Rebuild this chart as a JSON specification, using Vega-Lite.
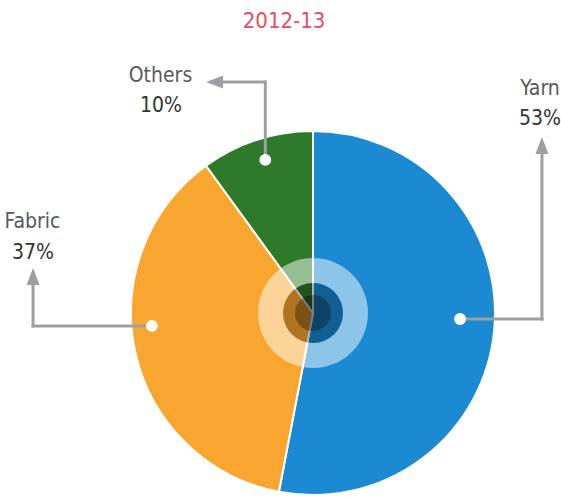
{
  "$schema": "https://vega.github.io/schema/vega-lite/v6.json",
  "width": 496,
  "height": 368,
  "autosize": {"type": "none"},
  "padding": {"left": 65, "top": 129, "right": 0, "bottom": 0},
  "background": "white",
  "config": {"view": {"stroke": null}},
  "data": {"values": [
    {"category": "Yarn", "share": 0.53},
    {"category": "Fabric", "share": 0.37},
    {"category": "Others", "share": 0.10}
  ]},
  "layer": [
    {
      "mark": {"type": "arc", "outerRadius": 182, "stroke": "white", "strokeWidth": 2},
      "encoding": {
        "theta": {"field": "share", "type": "quantitative", "stack": true},
        "order": {"field": "share", "type": "quantitative", "sort": "descending"},
        "color": {"field": "category", "type": "nominal", "legend": null,
          "scale": {"domain": ["Yarn", "Fabric", "Others"], "range": ["#1b8ad3", "#f9a630", "#2f7a2a"]}}
      }
    },
    {
      "transform": [{"filter": "datum.category == 'Yarn'"}],
      "mark": {"type": "arc", "theta": 0, "theta2": 6.2832, "innerRadius": 30, "outerRadius": 55, "fill": "white", "fillOpacity": 0.5},
      "encoding": {}
    },
    {
      "transform": [{"filter": "datum.category == 'Yarn'"}],
      "mark": {"type": "arc", "theta": 0, "theta2": 6.2832, "innerRadius": 0, "outerRadius": 30, "fill": "black", "fillOpacity": 0.3},
      "encoding": {}
    },
    {
      "transform": [{"filter": "datum.category == 'Yarn'"}],
      "mark": {"type": "arc", "theta": 0, "theta2": 6.2832, "innerRadius": 0, "outerRadius": 18, "fill": "black", "fillOpacity": 0.3},
      "encoding": {}
    },
    {
      "transform": [{"filter": "datum.category == 'Yarn'"}],
      "mark": {"type": "rule", "color": "#9d9fa2", "strokeWidth": 3, "strokeCap": "square"},
      "encoding": {
        "x": {"datum": 0.808, "type": "quantitative", "scale": {"domain": [-1.3626, 1.3626], "nice": false, "zero": false}, "axis": null},
        "x2": {"datum": 1.258},
        "y": {"datum": -0.033, "type": "quantitative", "scale": {"domain": [-1.011, 1.011], "nice": false, "zero": false}, "axis": null}
      }
    },
    {
      "transform": [{"filter": "datum.category == 'Yarn'"}],
      "mark": {"type": "rule", "color": "#9d9fa2", "strokeWidth": 3, "strokeCap": "square"},
      "encoding": {
        "x": {"datum": 1.258, "type": "quantitative", "scale": {"domain": [-1.3626, 1.3626], "nice": false, "zero": false}, "axis": null},
        "y": {"datum": -0.033, "type": "quantitative", "scale": {"domain": [-1.011, 1.011], "nice": false, "zero": false}, "axis": null},
        "y2": {"datum": 0.874}
      }
    },
    {
      "transform": [{"filter": "datum.category == 'Fabric'"}],
      "mark": {"type": "rule", "color": "#9d9fa2", "strokeWidth": 3, "strokeCap": "square"},
      "encoding": {
        "x": {"datum": -1.538, "type": "quantitative", "scale": {"domain": [-1.3626, 1.3626], "nice": false, "zero": false}, "axis": null},
        "x2": {"datum": -0.885},
        "y": {"datum": -0.071, "type": "quantitative", "scale": {"domain": [-1.011, 1.011], "nice": false, "zero": false}, "axis": null}
      }
    },
    {
      "transform": [{"filter": "datum.category == 'Fabric'"}],
      "mark": {"type": "rule", "color": "#9d9fa2", "strokeWidth": 3, "strokeCap": "square"},
      "encoding": {
        "x": {"datum": -1.538, "type": "quantitative", "scale": {"domain": [-1.3626, 1.3626], "nice": false, "zero": false}, "axis": null},
        "y": {"datum": -0.071, "type": "quantitative", "scale": {"domain": [-1.011, 1.011], "nice": false, "zero": false}, "axis": null},
        "y2": {"datum": 0.154}
      }
    },
    {
      "transform": [{"filter": "datum.category == 'Others'"}],
      "mark": {"type": "rule", "color": "#9d9fa2", "strokeWidth": 3, "strokeCap": "square"},
      "encoding": {
        "x": {"datum": -0.262, "type": "quantitative", "scale": {"domain": [-1.3626, 1.3626], "nice": false, "zero": false}, "axis": null},
        "y": {"datum": 0.841, "type": "quantitative", "scale": {"domain": [-1.011, 1.011], "nice": false, "zero": false}, "axis": null},
        "y2": {"datum": 1.269}
      }
    },
    {
      "transform": [{"filter": "datum.category == 'Others'"}],
      "mark": {"type": "rule", "color": "#9d9fa2", "strokeWidth": 3, "strokeCap": "square"},
      "encoding": {
        "x": {"datum": -0.262, "type": "quantitative", "scale": {"domain": [-1.3626, 1.3626], "nice": false, "zero": false}, "axis": null},
        "x2": {"datum": -0.495},
        "y": {"datum": 1.269, "type": "quantitative", "scale": {"domain": [-1.011, 1.011], "nice": false, "zero": false}, "axis": null}
      }
    },
    {
      "transform": [{"filter": "datum.category == 'Yarn'"}],
      "mark": {"type": "point", "shape": "M0,-1L0.765,1L-0.765,1Z", "size": 289, "filled": true, "color": "#9d9fa2", "opacity": 1},
      "encoding": {
        "x": {"datum": 1.258, "type": "quantitative", "scale": {"domain": [-1.3626, 1.3626], "nice": false, "zero": false}, "axis": null},
        "y": {"datum": 0.920, "type": "quantitative", "scale": {"domain": [-1.011, 1.011], "nice": false, "zero": false}, "axis": null}
      }
    },
    {
      "transform": [{"filter": "datum.category == 'Fabric'"}],
      "mark": {"type": "point", "shape": "M0,-1L0.765,1L-0.765,1Z", "size": 289, "filled": true, "color": "#9d9fa2", "opacity": 1},
      "encoding": {
        "x": {"datum": -1.538, "type": "quantitative", "scale": {"domain": [-1.3626, 1.3626], "nice": false, "zero": false}, "axis": null},
        "y": {"datum": 0.2005, "type": "quantitative", "scale": {"domain": [-1.011, 1.011], "nice": false, "zero": false}, "axis": null}
      }
    },
    {
      "transform": [{"filter": "datum.category == 'Others'"}],
      "mark": {"type": "point", "shape": "M-1,0L1,-0.765L1,0.765Z", "size": 289, "filled": true, "color": "#9d9fa2", "opacity": 1},
      "encoding": {
        "x": {"datum": -0.541, "type": "quantitative", "scale": {"domain": [-1.3626, 1.3626], "nice": false, "zero": false}, "axis": null},
        "y": {"datum": 1.269, "type": "quantitative", "scale": {"domain": [-1.011, 1.011], "nice": false, "zero": false}, "axis": null}
      }
    },
    {
      "transform": [{"filter": "datum.category == 'Yarn'"}],
      "mark": {"type": "point", "shape": "circle", "size": 140, "filled": true, "color": "white", "opacity": 1},
      "encoding": {
        "x": {"datum": 0.808, "type": "quantitative", "scale": {"domain": [-1.3626, 1.3626], "nice": false, "zero": false}, "axis": null},
        "y": {"datum": -0.033, "type": "quantitative", "scale": {"domain": [-1.011, 1.011], "nice": false, "zero": false}, "axis": null}
      }
    },
    {
      "transform": [{"filter": "datum.category == 'Fabric'"}],
      "mark": {"type": "point", "shape": "circle", "size": 140, "filled": true, "color": "white", "opacity": 1},
      "encoding": {
        "x": {"datum": -0.885, "type": "quantitative", "scale": {"domain": [-1.3626, 1.3626], "nice": false, "zero": false}, "axis": null},
        "y": {"datum": -0.071, "type": "quantitative", "scale": {"domain": [-1.011, 1.011], "nice": false, "zero": false}, "axis": null}
      }
    },
    {
      "transform": [{"filter": "datum.category == 'Others'"}],
      "mark": {"type": "point", "shape": "circle", "size": 140, "filled": true, "color": "white", "opacity": 1},
      "encoding": {
        "x": {"datum": -0.262, "type": "quantitative", "scale": {"domain": [-1.3626, 1.3626], "nice": false, "zero": false}, "axis": null},
        "y": {"datum": 0.841, "type": "quantitative", "scale": {"domain": [-1.011, 1.011], "nice": false, "zero": false}, "axis": null}
      }
    },
    {
      "transform": [{"filter": "datum.category == 'Yarn'"}],
      "mark": {"type": "text", "font": "Liberation Sans Narrow, DejaVu Sans Condensed, sans-serif", "fontSize": 21, "color": "#58595b", "align": "center", "baseline": "alphabetic"},
      "encoding": {
        "x": {"datum": 1.247, "type": "quantitative", "scale": {"domain": [-1.3626, 1.3626], "nice": false, "zero": false}, "axis": null},
        "y": {"datum": 1.198, "type": "quantitative", "scale": {"domain": [-1.011, 1.011], "nice": false, "zero": false}, "axis": null},
        "text": {"field": "category"}
      }
    },
    {
      "transform": [{"filter": "datum.category == 'Yarn'"}],
      "mark": {"type": "text", "font": "Liberation Sans Narrow, DejaVu Sans Condensed, sans-serif", "fontSize": 21, "color": "#333333", "align": "center", "baseline": "alphabetic"},
      "encoding": {
        "x": {"datum": 1.247, "type": "quantitative", "scale": {"domain": [-1.3626, 1.3626], "nice": false, "zero": false}, "axis": null},
        "y": {"datum": 1.033, "type": "quantitative", "scale": {"domain": [-1.011, 1.011], "nice": false, "zero": false}, "axis": null},
        "text": {"field": "share", "type": "quantitative", "format": ".0%"}
      }
    },
    {
      "transform": [{"filter": "datum.category == 'Fabric'"}],
      "mark": {"type": "text", "font": "Liberation Sans Narrow, DejaVu Sans Condensed, sans-serif", "fontSize": 21, "color": "#58595b", "align": "center", "baseline": "alphabetic"},
      "encoding": {
        "x": {"datum": -1.541, "type": "quantitative", "scale": {"domain": [-1.3626, 1.3626], "nice": false, "zero": false}, "axis": null},
        "y": {"datum": 0.467, "type": "quantitative", "scale": {"domain": [-1.011, 1.011], "nice": false, "zero": false}, "axis": null},
        "text": {"field": "category"}
      }
    },
    {
      "transform": [{"filter": "datum.category == 'Fabric'"}],
      "mark": {"type": "text", "font": "Liberation Sans Narrow, DejaVu Sans Condensed, sans-serif", "fontSize": 21, "color": "#333333", "align": "center", "baseline": "alphabetic"},
      "encoding": {
        "x": {"datum": -1.538, "type": "quantitative", "scale": {"domain": [-1.3626, 1.3626], "nice": false, "zero": false}, "axis": null},
        "y": {"datum": 0.297, "type": "quantitative", "scale": {"domain": [-1.011, 1.011], "nice": false, "zero": false}, "axis": null},
        "text": {"field": "share", "type": "quantitative", "format": ".0%"}
      }
    },
    {
      "transform": [{"filter": "datum.category == 'Others'"}],
      "mark": {"type": "text", "font": "Liberation Sans Narrow, DejaVu Sans Condensed, sans-serif", "fontSize": 21, "color": "#58595b", "align": "center", "baseline": "alphabetic"},
      "encoding": {
        "x": {"datum": -0.838, "type": "quantitative", "scale": {"domain": [-1.3626, 1.3626], "nice": false, "zero": false}, "axis": null},
        "y": {"datum": 1.269, "type": "quantitative", "scale": {"domain": [-1.011, 1.011], "nice": false, "zero": false}, "axis": null},
        "text": {"field": "category"}
      }
    },
    {
      "transform": [{"filter": "datum.category == 'Others'"}],
      "mark": {"type": "text", "font": "Liberation Sans Narrow, DejaVu Sans Condensed, sans-serif", "fontSize": 21, "color": "#333333", "align": "center", "baseline": "alphabetic"},
      "encoding": {
        "x": {"datum": -0.835, "type": "quantitative", "scale": {"domain": [-1.3626, 1.3626], "nice": false, "zero": false}, "axis": null},
        "y": {"datum": 1.104, "type": "quantitative", "scale": {"domain": [-1.011, 1.011], "nice": false, "zero": false}, "axis": null},
        "text": {"field": "share", "type": "quantitative", "format": ".0%"}
      }
    },
    {
      "transform": [{"filter": "datum.category == 'Yarn'"}],
      "mark": {"type": "text", "font": "Liberation Sans Narrow, DejaVu Sans Condensed, sans-serif", "fontSize": 22, "color": "#e34d63", "align": "center", "baseline": "alphabetic"},
      "encoding": {
        "x": {"datum": -0.159, "type": "quantitative", "scale": {"domain": [-1.3626, 1.3626], "nice": false, "zero": false}, "axis": null},
        "y": {"datum": 1.566, "type": "quantitative", "scale": {"domain": [-1.011, 1.011], "nice": false, "zero": false}, "axis": null},
        "text": {"value": "2012-13"}
      }
    }
  ]
}
